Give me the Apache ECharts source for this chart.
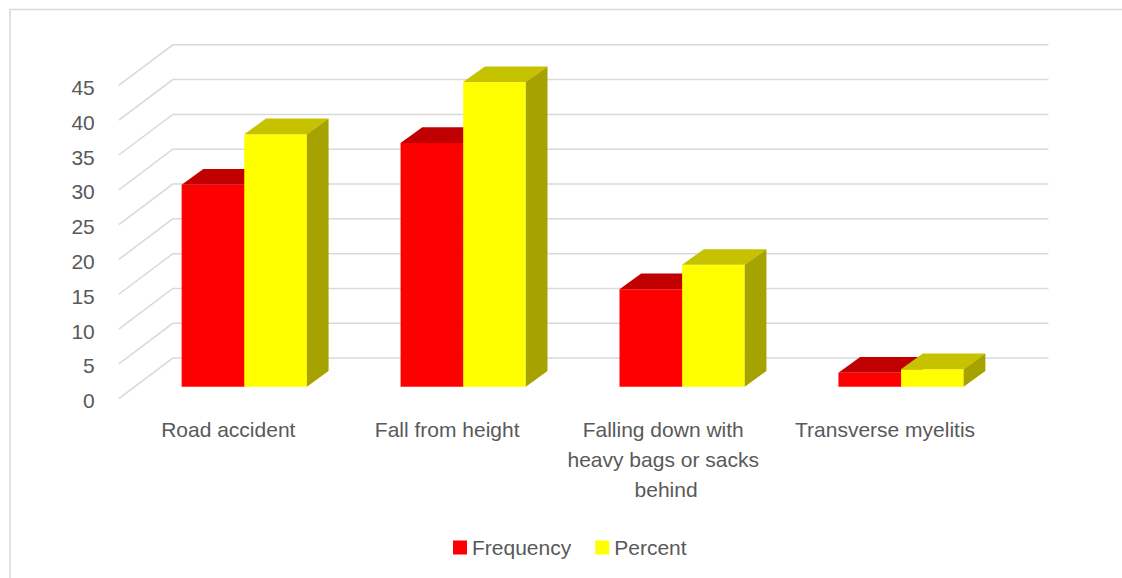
<!DOCTYPE html>
<html>
<head>
<meta charset="utf-8">
<title>Causes of injury</title>
<script src="https://cdn.jsdelivr.net/npm/echarts@6/dist/echarts.min.js"></script>
<style>
  html, body { margin: 0; padding: 0; background: #ffffff; }
  #chart { width: 1122px; height: 578px; }
</style>
</head>
<body>
<div id="chart"></div>
<script>
// Causes and counts
const categories = [
  'Road accident',
  'Fall from height',
  'Falling down with heavy bags or sacks behind',
  'Transverse myelitis'
];
const frequency = [29, 35, 14, 2];
const percent = [36.25, 43.75, 17.5, 2.5];
const yTicks = [0, 5, 10, 15, 20, 25, 30, 35, 40, 45];

// Pseudo-3D geometry (pixels): bar depth, and offsets of the front/back planes
// relative to the plane that the bars stand on.
const BAR_FRAC = 0.286;
const BAR_DX = 21.7, BAR_DY = 15.7;
const FRONT_DX = -16, FRONT_DY = 12;
const BACK_DX = 38, BACK_DY = -28.6;

const TEXT_COLOR = '#595959';
const FONT = 'Liberation Sans';
const GRID_COLOR = '#d9d9d9';

const faces = [
  { front: '#ff0000', top: '#c00000', side: '#a00000' },
  { front: '#ffff00', top: '#c6c200', side: '#a6a300' }
];

function barRenderer(seriesIdx) {
  return function (params, api) {
    const idx = api.value(0);
    const val = api.value(1);
    const top = api.coord([idx, val]);
    const base = api.coord([idx, 0]);
    const w = api.size([1, 0])[0] * BAR_FRAC;
    const cx = top[0];
    const yTop = top[1];
    const yBase = base[1];
    const x0 = seriesIdx === 0 ? cx - w : cx;
    const x1 = x0 + w;
    const c = faces[seriesIdx];
    return {
      type: 'group',
      children: [
        {
          type: 'rect',
          shape: { x: x0, y: yTop, width: w, height: yBase - yTop },
          style: { fill: api.visual('color') }
        },
        {
          type: 'polygon',
          shape: { points: [[x0, yTop], [x1, yTop], [x1 + BAR_DX, yTop - BAR_DY], [x0 + BAR_DX, yTop - BAR_DY]] },
          style: { fill: c.top }
        },
        {
          type: 'polygon',
          shape: { points: [[x1, yTop], [x1 + BAR_DX, yTop - BAR_DY], [x1 + BAR_DX, yBase - BAR_DY], [x1, yBase]] },
          style: { fill: c.side }
        }
      ]
    };
  };
}

function wallRenderer(params, api) {
  const y = api.coord([0, api.value(1)])[1];
  const band = api.size([1, 0])[0];
  const left = api.coord([0, 0])[0] - band / 2;
  const right = api.coord([categories.length - 1, 0])[0] + band / 2;
  return {
    type: 'polyline',
    silent: true,
    shape: {
      points: [
        [left + FRONT_DX, y + FRONT_DY],
        [left + BACK_DX, y + BACK_DY],
        [right + BACK_DX, y + BACK_DY]
      ]
    },
    style: { stroke: GRID_COLOR, lineWidth: 1.5, fill: null }
  };
}

const chart = echarts.init(document.getElementById('chart'), null, { renderer: 'svg' });

chart.setOption({
  animation: false,
  backgroundColor: '#ffffff',
  textStyle: { fontFamily: FONT },
  graphic: [
    {
      type: 'rect',
      silent: true,
      shape: { x: 10, y: 9.5, width: 1300, height: 800 },
      style: { fill: null, stroke: GRID_COLOR, lineWidth: 1.5 }
    }
  ],
  grid: { left: 134.8, right: 111.5, top: 73.4, bottom: 191.3 },
  xAxis: {
    type: 'category',
    data: categories,
    axisLine: { show: false },
    axisTick: { show: false },
    axisLabel: {
      interval: 0,
      margin: 28,
      color: TEXT_COLOR,
      fontFamily: FONT,
      fontSize: 21,
      lineHeight: 30,
      width: 210,
      overflow: 'break',
      align: 'center',
      padding: [0, 32, 0, 0]
    }
  },
  yAxis: {
    type: 'value',
    min: 0,
    max: 45,
    interval: 5,
    axisLine: { show: false },
    axisTick: { show: false },
    splitLine: { show: false },
    axisLabel: {
      margin: 40,
      color: TEXT_COLOR,
      fontFamily: FONT,
      fontSize: 21,
      verticalAlign: 'top',
      lineHeight: 28
    }
  },
  legend: {
    data: ['Frequency', 'Percent'],
    left: 448,
    top: 532,
    icon: 'rect',
    itemWidth: 14,
    itemHeight: 14,
    itemGap: 24,
    textStyle: { color: TEXT_COLOR, fontFamily: FONT, fontSize: 21 }
  },
  series: [
    {
      name: 'walls',
      type: 'custom',
      renderItem: wallRenderer,
      data: yTicks.map(v => [0, v]),
      z: 1,
      silent: true
    },
    {
      name: 'Frequency',
      type: 'custom',
      renderItem: barRenderer(0),
      itemStyle: { color: faces[0].front },
      data: frequency.map((v, i) => [i, v]),
      z: 2
    },
    {
      name: 'Percent',
      type: 'custom',
      renderItem: barRenderer(1),
      itemStyle: { color: faces[1].front },
      data: percent.map((v, i) => [i, v]),
      z: 3
    }
  ]
});
</script>
</body>
</html>
